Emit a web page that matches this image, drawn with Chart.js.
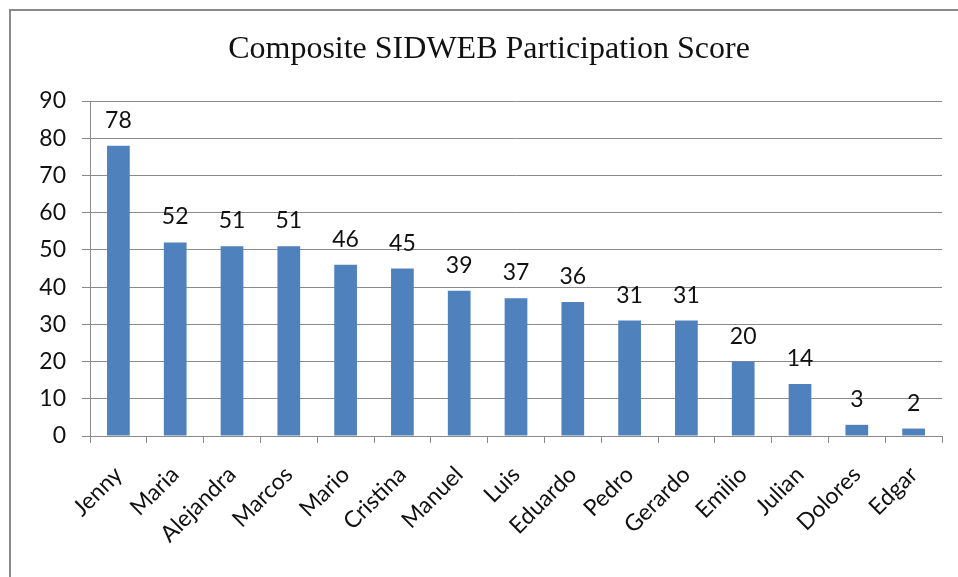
<!DOCTYPE html>
<html><head><meta charset="utf-8">
<script src="https://cdn.jsdelivr.net/npm/chart.js@4.4.0/dist/chart.umd.min.js"></script>
<style>
html,body{margin:0;padding:0;background:#fff;}
#wrap{position:relative;width:958px;height:577px;}
#frame{position:absolute;left:9px;top:9px;width:960px;height:580px;border-top:2px solid #8a8a8a;border-left:2px solid #8a8a8a;box-sizing:border-box;pointer-events:none;}
canvas{position:absolute;left:0;top:0;}
</style></head>
<body><div id="wrap"><canvas id="c" width="958" height="577"></canvas><div id="frame"></div></div>
<script>
const titleText = "Composite SIDWEB Participation Score";
const categories = ["Jenny","Maria","Alejandra","Marcos","Mario","Cristina","Manuel","Luis","Eduardo","Pedro","Gerardo","Emilio","Julian","Dolores","Edgar"];
const scores = [78,52,51,51,46,45,39,37,36,31,31,20,14,3,2];
const yTicks = [0,10,20,30,40,50,60,70,80,90];

const FONT = "Lato, 'Open Sans', sans-serif";

const labelPlugin = {
  id: 'labels',
  afterDatasetsDraw(chart){
    const ctx = chart.ctx;
    const meta = chart.getDatasetMeta(0);
    ctx.save();
    ctx.font = "23px " + FONT;
    ctx.fillStyle = "#111";
    ctx.textAlign = "center";
    ctx.textBaseline = "alphabetic";
    meta.data.forEach((bar,i)=>{
      ctx.fillText(String(scores[i]), bar.x, bar.y - 18);
    });
    ctx.restore();
  },
  afterDraw(chart){
    const ctx = chart.ctx;
    ctx.save();
    ctx.font = "32px 'Liberation Serif', 'Times New Roman', serif";
    ctx.fillStyle = "#111";
    ctx.textAlign = "center";
    ctx.textBaseline = "middle";
    ctx.fillText(titleText, 489, 50);
    ctx.restore();
  }
};

new Chart(document.getElementById('c'), {
  type: 'bar',
  data: {
    labels: categories,
    datasets: [{
      data: scores,
      backgroundColor: '#4F81BD',
      borderWidth: 0,
      barPercentage: 0.4,
      categoryPercentage: 1.0
    }]
  },
  options: {
    responsive: false,
    animation: false,
    devicePixelRatio: 1,
    layout: { padding: { top: 101, right: 16, left: 0, bottom: 0 } },
    plugins: { legend: { display: false }, title: { display: false }, tooltip: { enabled: false } },
    scales: {
      x: {
        afterFit(s){ s.height = 141; },
        grid: { display: true, drawOnChartArea: false, offset: true, color: '#8a8a8a', tickLength: 7, lineWidth: 1 },
        border: { display: true, color: '#8a8a8a', width: 1 },
        ticks: { color: '#111', font: { size: 23, family: FONT }, minRotation: 45, maxRotation: 45, autoSkip: false, padding: 18 }
      },
      y: {
        min: 0, max: 90,
        afterFit(s){ s.width = 90; },
        afterBuildTicks(s){ s.ticks = yTicks.map(v=>({value:v})); },
        grid: { color: '#8a8a8a', tickLength: 8, lineWidth: 1 },
        border: { display: true, color: '#8a8a8a', width: 1 },
        ticks: { color: '#111', font: { size: 23, family: FONT }, padding: 16 }
      }
    }
  },
  plugins: [labelPlugin]
});
</script>
</body></html>
